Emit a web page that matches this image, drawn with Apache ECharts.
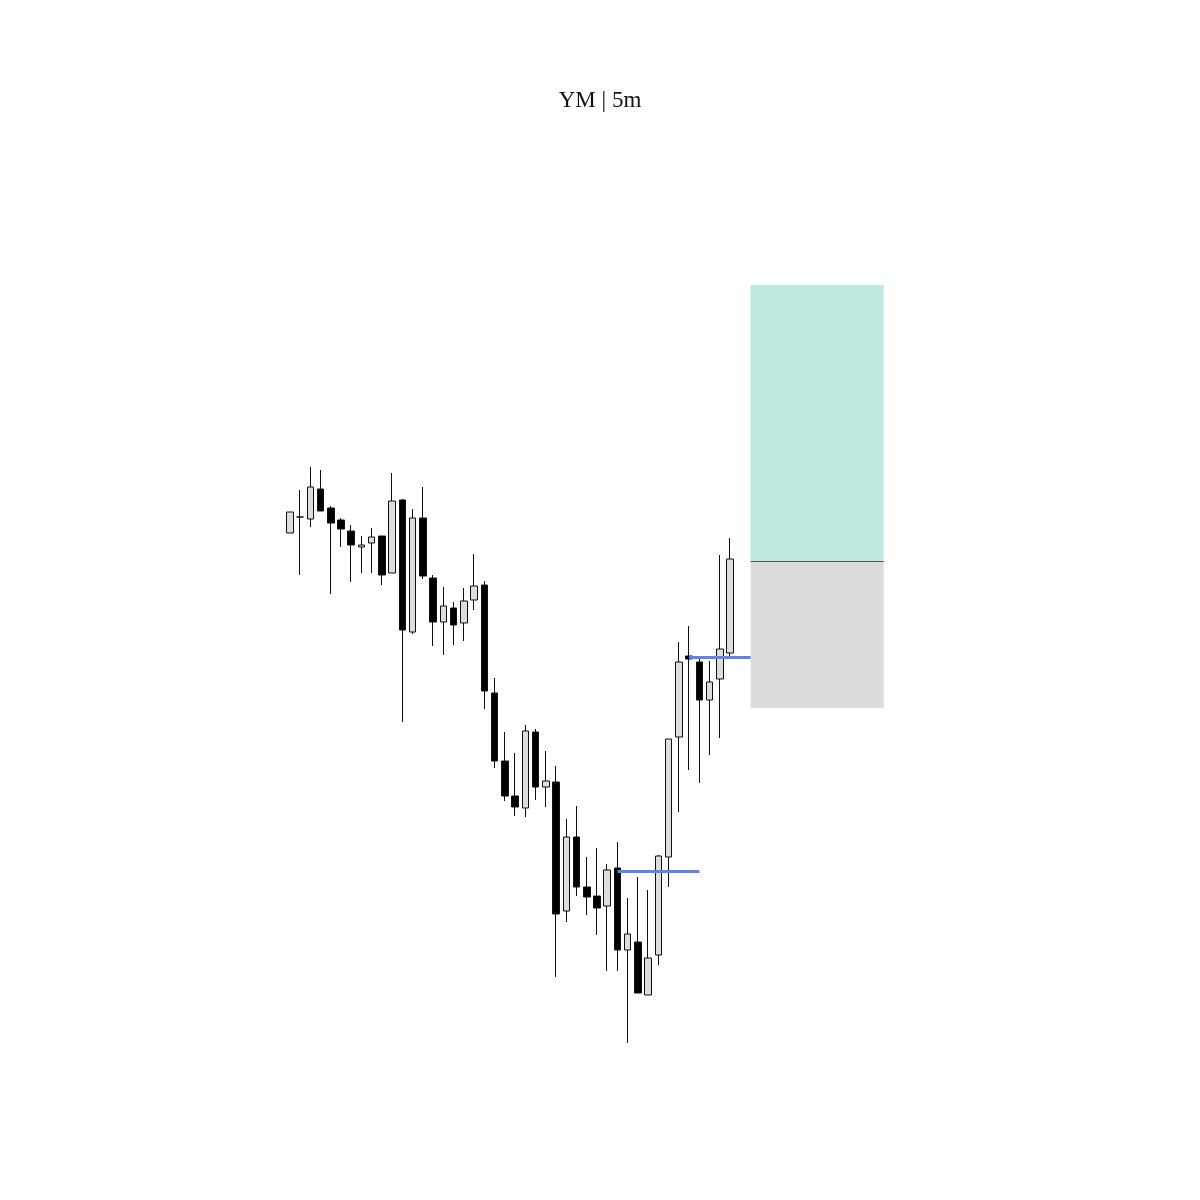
<!DOCTYPE html>
<html>
<head>
<meta charset="utf-8">
<title>YM | 5m</title>
<script src="https://cdn.jsdelivr.net/npm/echarts@6/dist/echarts.min.js"></script>
<style>
    html, body { margin: 0; padding: 0; background: #fff; }
    #chart { width: 1200px; height: 1200px; }
</style>
</head>
<body>
<div id="chart"></div>
<script>
// YM 5 minute candles
var openPrices  = [34467, 34483, 34481, 34511, 34492, 34480, 34469, 34453, 34457, 34464,
                   34427, 34500, 34368, 34482, 34422, 34378, 34392, 34377, 34400, 34415,
                   34307, 34239, 34204, 34192, 34268, 34213, 34218, 34089, 34163, 34113,
                   34104, 34094, 34132, 34050, 34058, 34005, 34045, 34143, 34263, 34344,
                   34338, 34300, 34321, 34347];
var closePrices = [34488, 34483, 34513, 34489, 34477, 34471, 34455, 34455, 34463, 34425,
                   34499, 34370, 34482, 34424, 34378, 34394, 34375, 34399, 34414, 34309,
                   34239, 34204, 34193, 34269, 34213, 34219, 34086, 34163, 34113, 34103,
                   34092, 34130, 34050, 34066, 34007, 34042, 34144, 34261, 34338, 34341,
                   34300, 34318, 34351, 34441];
var lowPrices   = [34467, 34425, 34473, 34489, 34406, 34453, 34418, 34427, 34427, 34415,
                   34427, 34278, 34366, 34421, 34354, 34345, 34355, 34359, 34390, 34291,
                   34232, 34199, 34184, 34183, 34200, 34193, 34023, 34078, 34104, 34085,
                   34065, 34029, 34029, 33957, 34007, 34005, 34035, 34113, 34188, 34230,
                   34217, 34245, 34262, 34341];
var highPrices  = [34488, 34510, 34533, 34530, 34494, 34482, 34475, 34464, 34472, 34464,
                   34527, 34501, 34491, 34513, 34425, 34413, 34398, 34412, 34446, 34419,
                   34322, 34268, 34247, 34275, 34271, 34249, 34234, 34181, 34194, 34143,
                   34152, 34136, 34158, 34102, 34123, 34110, 34145, 34261, 34358, 34374,
                   34344, 34339, 34445, 34462];

// levels drawn over the candles: [from bar, to bar, price]
var blueLevels = [[32, 40, 34129], [39, 45, 34343]];
// trade box: entry, target, stop, bar span
var entryPrice = 34439;
var targetPrice = 34715;
var stopPrice = 34292;
var boxStart = 45;
var boxEnd = 58;

var candleData = [];
for (var i = 0; i < openPrices.length; i++) {
    candleData.push([i, openPrices[i], closePrices[i], lowPrices[i], highPrices[i]]);
}

var levelLines = [];
blueLevels.forEach(function (lv) {
    levelLines.push([
        {coord: [lv[0], lv[2]], lineStyle: {color: '#6584d6', width: 3}},
        {coord: [lv[1], lv[2]]}
    ]);
});
levelLines.push([
    {coord: [boxStart, entryPrice], lineStyle: {color: '#555555', width: 1}},
    {coord: [boxEnd, entryPrice]}
]);

var chart = echarts.init(document.getElementById('chart'), null, {renderer: 'canvas'});
var option = {
    backgroundColor: '#ffffff',
    animation: false,
    title: {
        text: 'YM | 5m',
        left: 'center',
        top: 84,
        textStyle: {
            fontFamily: 'Liberation Serif',
            fontSize: 23,
            fontWeight: 'normal',
            color: '#111111'
        }
    },
    // first bar is cut by the left edge of the plot
    grid: {
        left: 291.85,
        right: 91,
        top: 200,
        bottom: 100
    },
    xAxis: {
        type: 'value',
        min: 0.2,
        max: 80,
        show: false,
        splitLine: {show: false}
    },
    yAxis: {
        type: 'value',
        min: 33900,
        max: 34800,
        show: false,
        scale: true,
        splitLine: {show: false}
    },
    series: [{
        type: 'candlestick',
        barWidth: 7,
        clip: true,
        data: candleData,
        itemStyle: {
            color: '#dddddd',
            color0: '#000000',
            borderColor: '#111111',
            borderColor0: '#111111',
            borderWidth: 1
        },
        markArea: {
            silent: true,
            itemStyle: {opacity: 1},
            data: [
                [{coord: [boxStart, targetPrice], itemStyle: {color: '#c0e9e1'}}, {coord: [boxEnd, entryPrice]}],
                [{coord: [boxStart, entryPrice], itemStyle: {color: '#dcdcdc'}}, {coord: [boxEnd, stopPrice]}]
            ]
        },
        markLine: {
            silent: true,
            symbol: ['none', 'none'],
            label: {show: false},
            lineStyle: {type: 'solid'},
            data: levelLines
        }
    }]
};
chart.setOption(option);
</script>
</body>
</html>
